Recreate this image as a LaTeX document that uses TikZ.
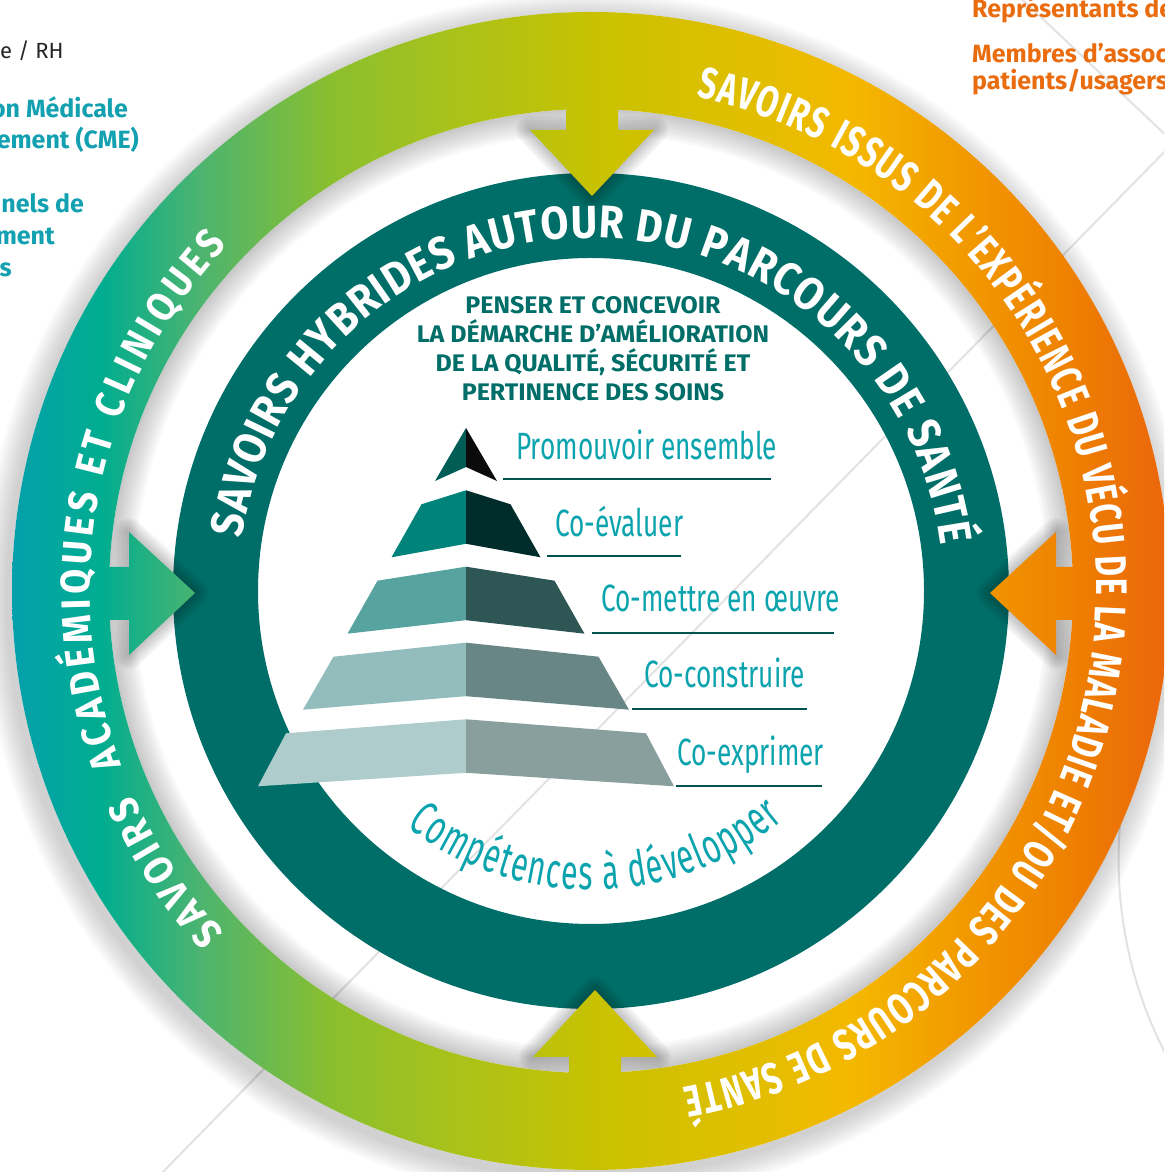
\documentclass[tikz,border=0pt]{standalone}
\usepackage{fontspec}
\setmainfont{Fira Sans}
\newfontfamily\ringfont[FakeStretch=0.88]{Fira Sans}
\newfontfamily\outerfont[FakeStretch=0.72]{Fira Sans}
\newfontfamily\condfont[FakeStretch=0.69]{Fira Sans}
\newfontfamily\compfont[FakeStretch=0.62]{Fira Sans}
\newfontfamily\titlefont[FakeStretch=1.04]{Fira Sans}
\newfontfamily\sidefont[FakeStretch=1.0]{Fira Sans}
\usetikzlibrary{decorations.text, positioning}

\definecolor{tealring}{HTML}{006E68}
\definecolor{labelcyan}{HTML}{0BA3AD}
\definecolor{lineteal}{HTML}{00534F}
\definecolor{sidecyan}{HTML}{13A0B0}
\definecolor{sideorange}{HTML}{E96C0E}
\definecolor{decogray}{HTML}{E2E2E2}
% couleurs de la pyramide (gauche / droite)
\definecolor{lay1l}{HTML}{005E57}\definecolor{lay1r}{HTML}{0B0B0B}
\definecolor{lay2l}{HTML}{00837B}\definecolor{lay2r}{HTML}{002D2B}
\definecolor{lay3l}{HTML}{56A39F}\definecolor{lay3r}{HTML}{2D5654}
\definecolor{lay4l}{HTML}{92BDBC}\definecolor{lay4r}{HTML}{678685}
\definecolor{lay5l}{HTML}{AECCCB}\definecolor{lay5r}{HTML}{889F9E}
% degrade de l'anneau exterieur
\definecolor{gA}{HTML}{05A0AC}\definecolor{gB}{HTML}{00AD90}
\definecolor{gC}{HTML}{4CB470}\definecolor{gD}{HTML}{8ABF2E}
\definecolor{gE}{HTML}{A8C21B}\definecolor{gF}{HTML}{C9C200}
\definecolor{gG}{HTML}{E3BE00}\definecolor{gH}{HTML}{F4B800}
\definecolor{gI}{HTML}{F29A00}\definecolor{gJ}{HTML}{EF8300}
\definecolor{gK}{HTML}{EA650C}
\pgfdeclarehorizontalshading{ringgrad}{100bp}{color(0bp)=(gA); color(25bp)=(gA);
  color(28.8bp)=(gB); color(33.1bp)=(gC); color(38.8bp)=(gD); color(43.9bp)=(gE);
  color(50.4bp)=(gF); color(57.4bp)=(gG); color(61.2bp)=(gH); color(66bp)=(gI);
  color(70.3bp)=(gJ); color(75bp)=(gK); color(100bp)=(gK)}

\begin{document}
\begin{tikzpicture}[
    x=1pt, y=1pt,
    stepline/.style={draw=lineteal, line width=2.5pt},
    steplabel/.style={anchor=base west, inner sep=0pt, text=labelcyan,
      font=\condfont\fontsize{38}{42}\selectfont},
    sideleft/.style={anchor=base east, inner sep=0pt, text=sidecyan,
      font=\sidefont\bfseries\fontsize{25}{30}\selectfont},
    sideright/.style={anchor=base west, inner sep=0pt, text=sideorange,
      font=\sidefont\bfseries\fontsize{25}{30}\selectfont},
    ringtext/.style={decorate, decoration={text along path,
      text align={fit to path}, text={#1}}},
    headshadow/.style={draw=black, opacity=0.035, line join=round},
    decoline/.style={draw=decogray, line width=2pt}
  ]

  \useasboundingbox (0,0) rectangle (1164,1172);
  \clip (0,0) rectangle (1164,1172);

  % --- CENTRE DES ANNEAUX ---
  \coordinate (c) at (591,581);

  % --- TRAITS GRIS DU FOND ---
  \draw[decoline] (150,-13) -- (1180,1036);
  \draw[decoline] (1010,1184) -- (1190,1014);
  \draw[decoline] (1541.6,312) circle (423);

  % --- OMBRES ---
  \foreach \k in {1,...,10}
    \fill[black, opacity=0.025, even odd rule] (c) circle (482) (c) circle ({482-2.5*\k});
  \foreach \k in {1,...,10}
    \fill[black, opacity=0.02, even odd rule] ([shift={(-4,-6)}]c) circle ({579+2.5*\k}) (c) circle (579);

  % --- ANNEAU CENTRAL ---
  \fill[tealring, even odd rule] (c) circle (418) (c) circle (333);

  % ombre des pointes de fleches
  \foreach \k in {1,...,7}{
    \draw[headshadow, line width=\k*4pt] (592,976) -- (654,1042) -- (530,1042) -- cycle;
    \draw[headshadow, line width=\k*4pt] (595,182) -- (533,115) -- (657,115) -- cycle;
    \draw[headshadow, line width=\k*4pt] (195,579) -- (129,640) -- (129,517) -- cycle;
    \draw[headshadow, line width=\k*4pt] (990,579) -- (1056,517) -- (1056,640) -- cycle;
  }

  % --- ANNEAU EXTERIEUR ET FLECHES (un seul degrade) ---
  \shade[shading=ringgrad, nonzero rule]
    ([shift={(579,0)}]c) arc[start angle=0, end angle=360, radius=579] -- cycle
    ([shift={(482,0)}]c) arc[start angle=0, end angle=-360, radius=482] -- cycle
    % haut
    (592,976) -- (654,1042) -- (618,1042) -- (618,1075) -- (566,1075) -- (566,1042) -- (530,1042) -- cycle
    % bas
    (595,182) -- (533,115) -- (569,115) -- (569,85) -- (621,85) -- (621,115) -- (657,115) -- cycle
    % gauche
    (195,579) -- (129,640) -- (129,605) -- (98,605) -- (98,552) -- (129,552) -- (129,517) -- cycle
    % droite
    (990,579) -- (1056,517) -- (1056,552) -- (1084,552) -- (1084,605) -- (1056,605) -- (1056,640) -- cycle;

  % --- TEXTES COURBES ---
  \path[ringtext={|\ringfont\bfseries\fontsize{41}{46}\selectfont\color{white}|SAVOIRS{\hspace{22pt}}ACADÉMIQUES ET CLINIQUES}]
    ([shift={(223:501)}]c) arc[start angle=223, end angle=136.5, radius=501];
  \path[ringtext={|\outerfont\bfseries\fontsize{44}{48}\selectfont\color{white}|SAVOIRS ISSUS DE L’EXPÉRIENCE DU VÉCU DE LA MALADIE ET/OU DES PARCOURS DE SANTÉ}]
    ([shift={(78:505)}]c) arc[start angle=78, end angle=-79.5, radius=505];
  \path[ringtext={|\ringfont\bfseries\fontsize{46}{50}\selectfont\color{white}|SAVOIRS HYBRIDES AUTOUR DU PARCOURS DE SANTÉ}]
    ([shift={(171.5:353)}]c) arc[start angle=171.5, end angle=7.5, radius=353];
  \path[ringtext={|\compfont\fontsize{49}{52}\selectfont\color{labelcyan}|Compétences à développer}]
    ([shift={(232:299)}]c) arc[start angle=232, end angle=310, radius=299];

  % --- TITRE ---
  \node[align=center, text=tealring, font=\titlefont\bfseries\fontsize{24}{29}\selectfont] (titre) at (593,823.5)
    {PENSER ET CONCEVOIR\\LA DÉMARCHE D’AMÉLIORATION\\DE LA QUALITÉ, SÉCURITÉ ET\\PERTINENCE DES SOINS};

  % --- PYRAMIDE ---
  \fill[lay1l] (466,744) -- (435,691) -- (466,705) -- cycle;
  \fill[lay1r] (466,744) -- (497,691) -- (466,705) -- cycle;
  \foreach \yt/\a/\b/\cl/\cr in {667.7/44.5/74.5/lay2l/lay2r, 591.3/88.5/118.5/lay3l/lay3r,
                                 515.3/132.5/163/lay4l/lay4r, 438.7/180/208/lay5l/lay5r}{
    \fill[\cl] (466-\a,\yt) -- (466,\yt+14) -- (466,\yt-39.5) -- (466-\b,\yt-53) -- cycle;
    \fill[\cr] (466+\a,\yt) -- (466,\yt+14) -- (466,\yt-39.5) -- (466+\b,\yt-53) -- cycle;
  }

  % --- ETIQUETTES ---
  \node[steplabel] (lblProm) at (516,712) {Promouvoir ensemble};
  \node[steplabel] (lblEval) at (555,635) {Co-évaluer};
  \node[steplabel] (lblMettre) at (601,560) {Co-mettre en œuvre};
  \node[steplabel] (lblConst) at (644,484) {Co-construire};
  \node[steplabel] (lblExpr) at (677,406) {Co-exprimer};
  \draw[stepline] (503,693) -- (771,693);
  \draw[stepline] (547,616) -- (681,616);
  \draw[stepline] (592,539) -- (834,539);
  \draw[stepline] (632,463) -- (807,463);
  \draw[stepline] (676,386) -- (822,386);

  % --- TEXTES COUPES EN BORD ---
  \node[anchor=base west, inner sep=0pt, text=black!85, font=\sidefont\fontsize{22}{26}\selectfont] (rh) at (0,1113) {e / RH};
  \node[sideleft] (cme1) at (128,1054) {on Médicale};
  \node[sideleft] (cme2) at (139,1023) {ement (CME)};
  \node[sideleft] (pro1) at (84,959) {nels de};
  \node[sideleft] (pro2) at (55,927) {ment};
  \node[sideleft] (pro3) at (12,895) {s};
  \node[sideright] (rep) at (972,1154) {Représentants de};
  \node[sideright] (asso1) at (972,1109) {Membres d’assoc};
  \node[sideright] (asso2) at (972,1082) {patients/usagers};

\end{tikzpicture}
\end{document}
